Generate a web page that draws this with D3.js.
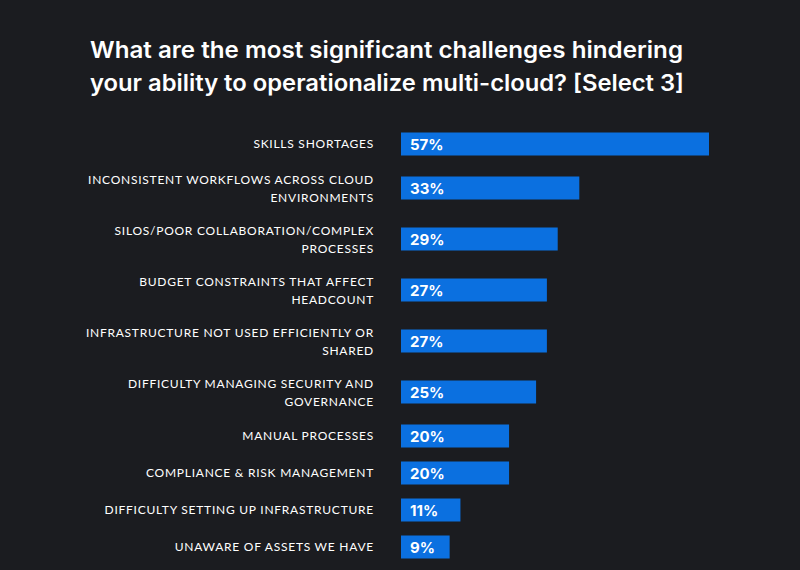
<!DOCTYPE html>
<html><head><meta charset="utf-8">
<script src="https://cdn.jsdelivr.net/npm/d3@7"></script>
<style>body{margin:0;background:#1b1c20}</style></head>
<body><svg id="c" width="800" height="570"></svg>
<script>
const categories = [
 ["SKILLS SHORTAGES"],
 ["INCONSISTENT WORKFLOWS ACROSS CLOUD","ENVIRONMENTS"],
 ["SILOS/POOR COLLABORATION/COMPLEX","PROCESSES"],
 ["BUDGET CONSTRAINTS THAT AFFECT","HEADCOUNT"],
 ["INFRASTRUCTURE NOT USED EFFICIENTLY OR","SHARED"],
 ["DIFFICULTY MANAGING SECURITY AND","GOVERNANCE"],
 ["MANUAL PROCESSES"],
 ["COMPLIANCE & RISK MANAGEMENT"],
 ["DIFFICULTY SETTING UP INFRASTRUCTURE"],
 ["UNAWARE OF ASSETS WE HAVE"]
];
const values = [57,33,29,27,27,25,20,20,11,9];
const titleLines = ["What are the most significant challenges hindering","your ability to operationalize multi-cloud? [Select 3]"];

const svg = d3.select("#c");
svg.append("rect").attr("width",800).attr("height",570).attr("fill","#1b1c20");
svg.selectAll("text.t").data(titleLines).join("text")
 .attr("x",90).attr("y",(d,i)=>58+i*33).attr("fill","#fff")
 .attr("font-family","Inter, sans-serif").attr("font-weight",600).attr("font-size",22.5)
 .attr("textLength",d=>d.startsWith("What")?593:594).attr("lengthAdjust","spacingAndGlyphs")
 .text(d=>d);

const x = d3.scaleLinear().domain([0,57]).range([401,709]);
const rowH = categories.map(c=>c.length>1?51:37);
let centers=[], cy=144;
rowH.forEach((h,i)=>{ if(i>0) cy += (rowH[i-1]+h)/2; centers.push(cy); });
const barH = 23;
const g = svg.selectAll("g.row").data(values).join("g").attr("transform",(d,i)=>`translate(0,${centers[i]})`);
g.append("rect").attr("x",x(0)).attr("y",-barH/2).attr("width",d=>x(d)-x(0)).attr("height",barH).attr("fill","#0b70e0");
g.append("text").attr("x",x(0)+9).attr("y",6).attr("fill","#fff")
 .attr("font-family","Inter, sans-serif").attr("font-weight",700).attr("font-size",15).text(d=>d+"%");
g.each(function(d,i){
  const lines=categories[i];
  const t=d3.select(this).append("text").attr("text-anchor","end").attr("fill","#fff")
   .attr("font-family","Lato, 'Open Sans', sans-serif").attr("font-size",12).attr("letter-spacing",0.75);
  lines.forEach((l,j)=>t.append("tspan").attr("x",374).attr("y",(lines.length>1?-4:4)+j*18).text(l));
});
</script></body></html>
